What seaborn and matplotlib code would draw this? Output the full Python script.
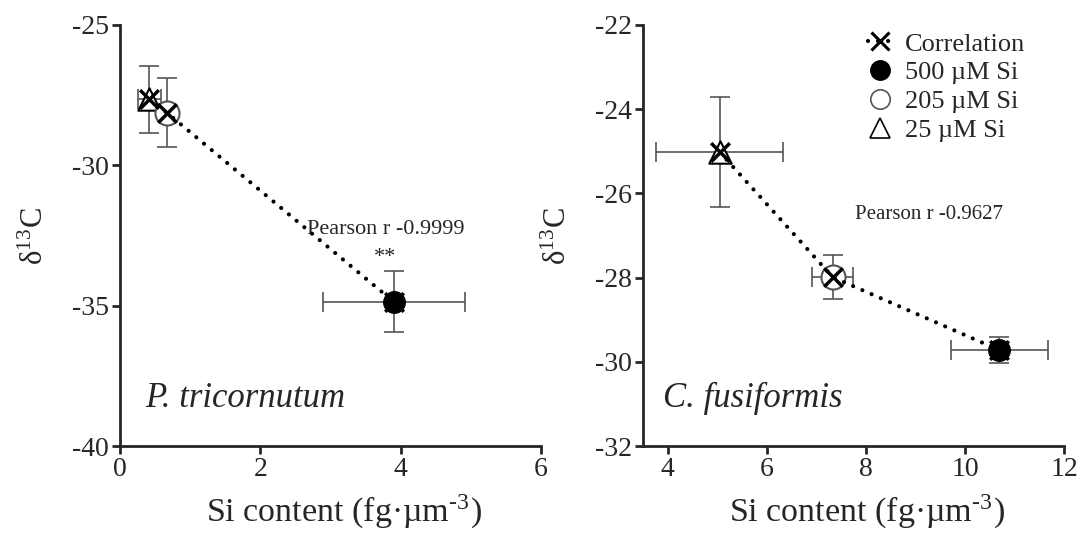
import numpy as np
import pandas as pd
import matplotlib
matplotlib.use("Agg")
import matplotlib.pyplot as plt
import seaborn as sns
from matplotlib.lines import Line2D

# values (order: 500, 205, 25 uM Si)
treatments = ["500 µM Si", "205 µM Si", "25 µM Si"]

pt_si = [3.90, 0.665, 0.42]
pt_si_err = [1.01, 0.10, 0.17]
pt_d13c = [-34.86, -28.12, -27.65]
pt_d13c_err = [1.09, 1.24, 1.20]
pt_r = "Pearson r -0.9999"

cf_si = [10.69, 7.33, 5.05]
cf_si_err = [0.98, 0.41, 1.28]
cf_d13c = [-29.72, -27.99, -25.02]
cf_d13c_err = [0.32, 0.52, 1.30]
cf_r = "Pearson r -0.9627"

sns.set_style("ticks")
plt.rcParams["font.family"] = ["Liberation Serif", "DejaVu Serif"]
plt.rcParams["mathtext.fontset"] = "stix"
plt.rcParams["axes.unicode_minus"] = False

marker_style = {
    "500 µM Si": dict(marker="o", color="black", edgecolor="black", s=240, linewidth=1, zorder=6),
    "205 µM Si": dict(marker="o", color="white", edgecolor="#555555", s=300, linewidth=1.5, zorder=4),
    "25 µM Si": dict(marker="^", color="white", edgecolor="black", s=260, linewidth=1.5, zorder=3),
}


def draw_panel(ax, si, si_err, d13c, d13c_err):
    df = pd.DataFrame({"treatment": treatments, "si": si, "si_err": si_err,
                       "d13c": d13c, "d13c_err": d13c_err})
    ax.errorbar(df["si"], df["d13c"], xerr=df["si_err"], yerr=df["d13c_err"],
                fmt="none", ecolor="#555555", elinewidth=1.2, capsize=7,
                capthick=1.2, zorder=2)
    # dotted correlation line through the points
    order = df.iloc[::-1]
    sns.lineplot(data=order, x="si", y="d13c", sort=False, ax=ax, color="black",
                 linewidth=3, linestyle=(0, (0.01, 2.4)), dash_capstyle="round",
                 zorder=5)
    for t in ["25 µM Si", "205 µM Si"]:
        sub = df[df["treatment"] == t]
        sns.scatterplot(data=sub, x="si", y="d13c", ax=ax, **marker_style[t])
    sns.scatterplot(data=df, x="si", y="d13c", ax=ax, marker="x", color="black",
                    s=180, linewidth=2.5, zorder=5)
    sub = df[df["treatment"] == "500 µM Si"]
    sns.scatterplot(data=sub, x="si", y="d13c", ax=ax, **marker_style["500 µM Si"])

    for side in ["top", "right"]:
        ax.spines[side].set_visible(False)
    for side in ["left", "bottom"]:
        ax.spines[side].set_linewidth(2)
    ax.tick_params(width=2, length=6, labelsize=20, pad=2)
    ax.set_xlabel("Si content (fg·µm$^{\\mathregular{\u2010 3}}$)", fontsize=24.5,
                  labelpad=8)
    ax.xaxis.set_label_coords(0.531, -0.11)
    ax.set_ylabel("δ$^{\\mathregular{13}}$C", fontsize=22, labelpad=16)


fig = plt.figure(figsize=(10.88, 5.42), dpi=100)
ax1 = fig.add_axes([0.1103, 0.1771, 0.387, 0.7768])
ax2 = fig.add_axes([0.591, 0.1771, 0.387, 0.7768])

draw_panel(ax1, pt_si, pt_si_err, pt_d13c, pt_d13c_err)
ax1.set_xlim(0, 6)
ax1.set_ylim(-40, -25)
ax1.set_xticks([0, 2, 4, 6])
ax1.set_yticks([-40, -35, -30, -25])
ax1.text(3.78, -32.3, pt_r, fontsize=16, ha="center", va="center")
ax1.text(3.78, -33.3, "**", fontsize=16, ha="center", va="center")
ax1.text(0.356, -38.29, "P. tricornutum", fontsize=25, style="italic",
         ha="left", va="center")

draw_panel(ax2, cf_si, cf_si_err, cf_d13c, cf_d13c_err)
ax2.set_xlim(3.5, 12)
ax2.set_ylim(-32, -22)
ax2.set_xticks([4, 6, 8, 10, 12])
ax2.set_yticks([-32, -30, -28, -26, -24, -22])
ax2.text(9.28, -26.49, cf_r, fontsize=15, ha="center", va="center")
ax2.text(3.9, -30.86, "C. fusiformis", fontsize=25, style="italic",
         ha="left", va="center")

handles = [
    Line2D([0], [0], color="black", linewidth=3, linestyle=(0, (0.01, 2.4)),
           dash_capstyle="round", marker="x", markersize=13, markeredgewidth=2.2),
    Line2D([0], [0], linestyle="none", marker="o", markersize=14,
           markerfacecolor="black", markeredgecolor="black"),
    Line2D([0], [0], linestyle="none", marker="o", markersize=14,
           markerfacecolor="white", markeredgecolor="#555555", markeredgewidth=1.2),
    Line2D([0], [0], linestyle="none", marker="^", markersize=14,
           markerfacecolor="white", markeredgecolor="black", markeredgewidth=1.2),
]
ax2.legend(handles, ["Correlation"] + treatments, loc="upper left",
           bbox_to_anchor=(0.535, 0.983), frameon=False, fontsize=19,
           handlelength=0.9, handletextpad=0.5, labelspacing=0.2,
           borderaxespad=0, borderpad=0)

fig.savefig("out.png", dpi=100)
